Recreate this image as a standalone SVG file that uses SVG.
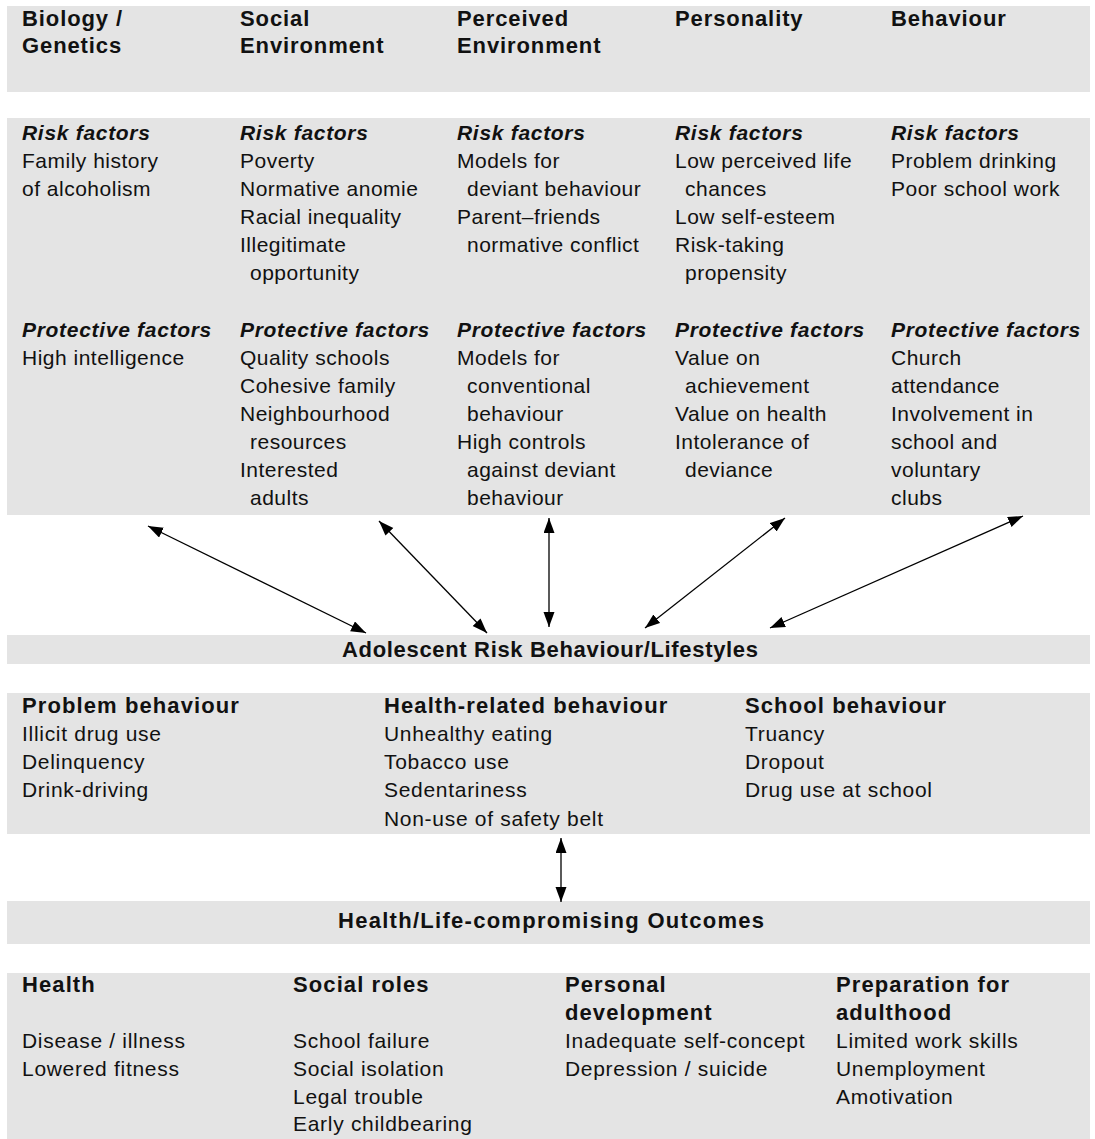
<svg xmlns="http://www.w3.org/2000/svg" width="1095" height="1139" viewBox="0 0 1095 1139">
  <style>
    .band { fill: #e4e4e4; }
    text { font-family: "Liberation Sans", Arial, sans-serif; font-size: 21px; fill: #111; }
    .r { letter-spacing: 0.5px; }
    .b { font-weight: bold; font-size: 22px; letter-spacing: 0.9px; }
    .bi { font-weight: bold; font-style: italic; letter-spacing: 0.7px; }
    .lb { font-weight: bold; font-size: 22px; letter-spacing: 1.1px; }
    .lr { letter-spacing: 0.7px; }
    .t { font-weight: bold; font-size: 22px; }
    .link { stroke: #000; stroke-width: 1.3; fill: none; marker-start: url(#head); marker-end: url(#head); }
  </style>
  <defs>
    <marker id="head" markerUnits="userSpaceOnUse" markerWidth="16" markerHeight="12" refX="15" refY="5.5" orient="auto-start-reverse">
      <path d="M0,0 L15,5.5 L0,11 Z" fill="#000"/>
    </marker>
  </defs>

  <!-- background bands -->
  <g id="bands">
    <rect class="band" x="7" y="6" width="1083" height="86"/>
    <rect class="band" x="7" y="118" width="1083" height="397"/>
    <rect class="band" x="7" y="635" width="1083" height="29"/>
    <rect class="band" x="7" y="693" width="1083" height="141"/>
    <rect class="band" x="7" y="901" width="1083" height="43"/>
    <rect class="band" x="7" y="973" width="1083" height="166"/>
  </g>

  <!-- domain columns -->
  <g id="biology">
    <text class="b" x="22" y="26">Biology /</text>
    <text class="b" x="22" y="53">Genetics</text>
    <text class="bi" x="22" y="140">Risk factors</text>
    <text class="r" x="22" y="168">Family history</text>
    <text class="r" x="22" y="196">of alcoholism</text>
    <text class="bi" x="22" y="337">Protective factors</text>
    <text class="r" x="22" y="365">High intelligence</text>
  </g>

  <g id="social-environment">
    <text class="b" x="240" y="26">Social</text>
    <text class="b" x="240" y="53">Environment</text>
    <text class="bi" x="240" y="140">Risk factors</text>
    <text class="r" x="240" y="168">Poverty</text>
    <text class="r" x="240" y="196">Normative anomie</text>
    <text class="r" x="240" y="224">Racial inequality</text>
    <text class="r" x="240" y="252">Illegitimate</text>
    <text class="r" x="250" y="280">opportunity</text>
    <text class="bi" x="240" y="337">Protective factors</text>
    <text class="r" x="240" y="365">Quality schools</text>
    <text class="r" x="240" y="393">Cohesive family</text>
    <text class="r" x="240" y="421">Neighbourhood</text>
    <text class="r" x="250" y="449">resources</text>
    <text class="r" x="240" y="477">Interested</text>
    <text class="r" x="250" y="505">adults</text>
  </g>

  <g id="perceived-environment">
    <text class="b" x="457" y="26">Perceived</text>
    <text class="b" x="457" y="53">Environment</text>
    <text class="bi" x="457" y="140">Risk factors</text>
    <text class="r" x="457" y="168">Models for</text>
    <text class="r" x="467" y="196">deviant behaviour</text>
    <text class="r" x="457" y="224">Parent–friends</text>
    <text class="r" x="467" y="252">normative conflict</text>
    <text class="bi" x="457" y="337">Protective factors</text>
    <text class="r" x="457" y="365">Models for</text>
    <text class="r" x="467" y="393">conventional</text>
    <text class="r" x="467" y="421">behaviour</text>
    <text class="r" x="457" y="449">High controls</text>
    <text class="r" x="467" y="477">against deviant</text>
    <text class="r" x="467" y="505">behaviour</text>
  </g>

  <g id="personality">
    <text class="b" x="675" y="26">Personality</text>
    <text class="bi" x="675" y="140">Risk factors</text>
    <text class="r" x="675" y="168">Low perceived life</text>
    <text class="r" x="685" y="196">chances</text>
    <text class="r" x="675" y="224">Low self-esteem</text>
    <text class="r" x="675" y="252">Risk-taking</text>
    <text class="r" x="685" y="280">propensity</text>
    <text class="bi" x="675" y="337">Protective factors</text>
    <text class="r" x="675" y="365">Value on</text>
    <text class="r" x="685" y="393">achievement</text>
    <text class="r" x="675" y="421">Value on health</text>
    <text class="r" x="675" y="449">Intolerance of</text>
    <text class="r" x="685" y="477">deviance</text>
  </g>

  <g id="behaviour">
    <text class="b" x="891" y="26">Behaviour</text>
    <text class="bi" x="891" y="140">Risk factors</text>
    <text class="r" x="891" y="168">Problem drinking</text>
    <text class="r" x="891" y="196">Poor school work</text>
    <text class="bi" x="891" y="337">Protective factors</text>
    <text class="r" x="891" y="365">Church</text>
    <text class="r" x="891" y="393">attendance</text>
    <text class="r" x="891" y="421">Involvement in</text>
    <text class="r" x="891" y="449">school and</text>
    <text class="r" x="891" y="477">voluntary</text>
    <text class="r" x="891" y="505">clubs</text>
  </g>

  <!-- central node -->
  <g id="risk-behaviour">
    <text class="t" x="550" y="657" text-anchor="middle" textLength="416" lengthAdjust="spacing">Adolescent Risk Behaviour/Lifestyles</text>
  </g>

  <g id="behaviour-types">
    <text class="lb" x="22" y="713">Problem behaviour</text>
    <text class="lr" x="22" y="741">Illicit drug use</text>
    <text class="lr" x="22" y="769">Delinquency</text>
    <text class="lr" x="22" y="797">Drink-driving</text>
    <text class="lb" x="384" y="713">Health-related behaviour</text>
    <text class="lr" x="384" y="741">Unhealthy eating</text>
    <text class="lr" x="384" y="769">Tobacco use</text>
    <text class="lr" x="384" y="797">Sedentariness</text>
    <text class="lr" x="384" y="826">Non-use of safety belt</text>
    <text class="lb" x="745" y="713">School behaviour</text>
    <text class="lr" x="745" y="741">Truancy</text>
    <text class="lr" x="745" y="769">Dropout</text>
    <text class="lr" x="745" y="797">Drug use at school</text>
  </g>

  <g id="outcomes">
    <text class="t" x="551" y="928" text-anchor="middle" textLength="426" lengthAdjust="spacing">Health/Life-compromising Outcomes</text>
  </g>

  <g id="outcome-types">
    <text class="lb" x="22" y="992">Health</text>
    <text class="lr" x="22" y="1048">Disease / illness</text>
    <text class="lr" x="22" y="1076">Lowered fitness</text>
    <text class="lb" x="293" y="992">Social roles</text>
    <text class="lr" x="293" y="1048">School failure</text>
    <text class="lr" x="293" y="1076">Social isolation</text>
    <text class="lr" x="293" y="1104">Legal trouble</text>
    <text class="lr" x="293" y="1131">Early childbearing</text>
    <text class="lb" x="565" y="992">Personal</text>
    <text class="lb" x="565" y="1020">development</text>
    <text class="lr" x="565" y="1048">Inadequate self-concept</text>
    <text class="lr" x="565" y="1076">Depression / suicide</text>
    <text class="lb" x="836" y="992">Preparation for</text>
    <text class="lb" x="836" y="1020">adulthood</text>
    <text class="lr" x="836" y="1048">Limited work skills</text>
    <text class="lr" x="836" y="1076">Unemployment</text>
    <text class="lr" x="836" y="1104">Amotivation</text>
  </g>

  <!-- two-way links -->
  <g id="connectors">
    <line class="link" x1="148" y1="526" x2="366" y2="633"/>
    <line class="link" x1="379" y1="521" x2="487" y2="633"/>
    <line class="link" x1="549" y1="518" x2="549" y2="627"/>
    <line class="link" x1="785" y1="518" x2="645" y2="628"/>
    <line class="link" x1="1023" y1="516" x2="770" y2="628"/>
    <line class="link" x1="561" y1="838" x2="561" y2="902"/>
  </g>
</svg>
